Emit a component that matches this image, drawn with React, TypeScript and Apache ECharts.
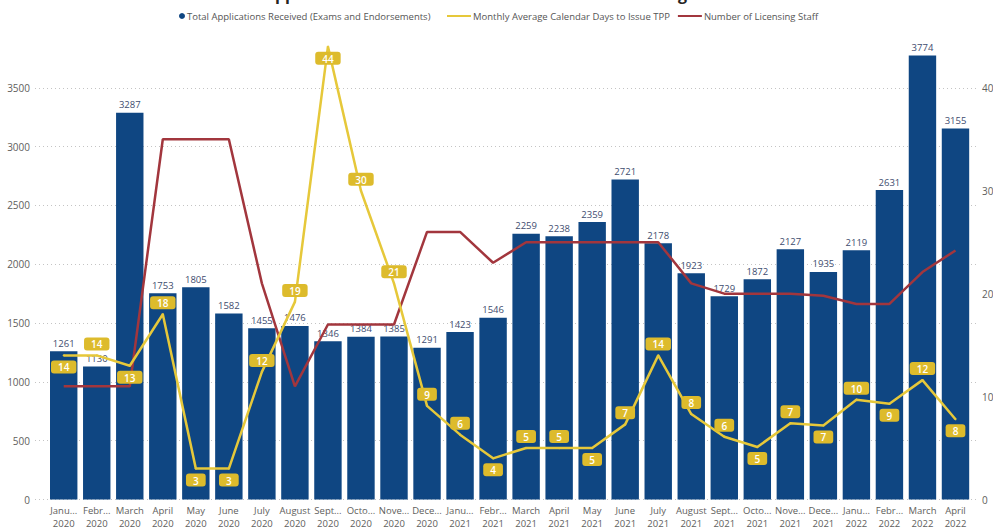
import React, { useEffect, useRef } from "react";
import * as echarts from "echarts";

const categories = [
  "Janu...\n2020", "Febr...\n2020", "March\n2020", "April\n2020", "May\n2020", "June\n2020",
  "July\n2020", "August\n2020", "Sept...\n2020", "Octo...\n2020", "Nove...\n2020", "Dece...\n2020",
  "Janu...\n2021", "Febr...\n2021", "March\n2021", "April\n2021", "May\n2021", "June\n2021",
  "July\n2021", "August\n2021", "Sept...\n2021", "Octo...\n2021", "Nove...\n2021", "Dece...\n2021",
  "Janu...\n2022", "Febr...\n2022", "March\n2022", "April\n2022",
];

const applications = [
  1261, 1130, 3287, 1753, 1805, 1582, 1455, 1476, 1346, 1384, 1385, 1291,
  1423, 1546, 2259, 2238, 2359, 2721, 2178, 1923, 1729, 1872, 2127, 1935,
  2119, 2631, 3774, 3155,
];

const daysToIssue = [
  14, 14, 13, 18, 3, 3, 12.4, 19.2, 44, 30, 21, 9.1,
  6.3, 4, 5, 5, 5, 7.3, 14, 8.3, 6.1, 5.1, 7.4, 7.2,
  9.7, 9.3, 11.6, 7.8,
];

const licensingStaff = [
  11, 11, 11, 35, 35, 35, 21, 11, 17, 17, 17, 26,
  26, 23, 25, 25, 25, 25, 25, 21, 20, 20, 20, 19.8,
  19, 19, 22.1, 24.2,
];

const leftTicks = { min: 0, max: 4000, interval: 500 };
const rightTicks = { min: 0, interval: 10 };

// indices whose day-label sits below the line point
const daysLabelBelow = [0, 2, 4, 5, 8, 13, 16, 21, 23, 25, 27];

const SERIES_BARS = "Total Applications Received (Exams and Endorsements)";
const SERIES_DAYS = "Monthly Average Calendar Days to Issue TPP";
const SERIES_STAFF = "Number of Licensing Staff";

const FONT = "'Open Sans', 'Noto Sans', sans-serif";
const BLUE = "#0F4682";
const YELLOW = "#E6C83A";
const YELLOW_LABEL = "#DDBB2C";
const RED = "#A2363D";
const GREY = "#605E5C";

export default function App() {
  const ref = useRef<HTMLDivElement>(null);

  useEffect(() => {
    if (!ref.current) return;
    const chart = echarts.init(ref.current, undefined, { renderer: "svg" });
    const rightMax = (leftTicks.max * 40) / 3500;

    const gridTop = 29;
    const gridBottom = 30.5;

    chart.setOption({
      animation: false,
      textStyle: { fontFamily: FONT },
      graphic: [
        {
          type: "text",
          left: "center",
          top: -14,
          style: {
            text: "Applications Received vs. Time to Issue and Licensing Staff",
            font: `bold 16px ${FONT}`,
            fill: "#252423",
          },
        },
      ],
      legend: [
        {
          data: [{ name: SERIES_BARS, icon: "circle" }],
          left: 179,
          top: 11,
          padding: 0,
          itemWidth: 6,
          itemHeight: 7,
          itemGap: 4,
          textStyle: { fontSize: 9.5, color: "#555", fontFamily: FONT, padding: [0, 0, 0, -3] },
        },
        {
          data: [
            { name: SERIES_DAYS, icon: "rect", itemStyle: { color: YELLOW, opacity: 1 } },
            { name: SERIES_STAFF, icon: "rect", itemStyle: { color: RED } },
          ],
          left: 447,
          top: 11,
          padding: 0,
          itemWidth: 24,
          itemHeight: 2,
          itemGap: 8,
          textStyle: { fontSize: 9.5, color: "#555", fontFamily: FONT, padding: [0, 0, 0, -3] },
        },
      ],
      grid: [
        { left: 35, right: 15, top: gridTop, bottom: gridBottom, outerBoundsMode: "none", containLabel: false },
        { left: 47.2, right: 21, top: gridTop, bottom: gridBottom, outerBoundsMode: "none", containLabel: false },
      ],
      xAxis: [
        { type: "value", gridIndex: 0, show: false, min: 0, max: 1 },
        {
          type: "category",
          gridIndex: 1,
          data: categories,
          axisLine: { show: false },
          axisTick: { show: false },
          axisLabel: {
            interval: 0,
            fontSize: 9.5,
            lineHeight: 13,
            color: GREY,
            margin: 4,
            fontFamily: FONT,
          },
        },
      ],
      yAxis: [
        {
          type: "value",
          gridIndex: 0,
          min: leftTicks.min,
          max: leftTicks.max,
          interval: leftTicks.interval,
          axisLine: { show: false },
          axisTick: { show: false },
          axisLabel: {
            showMaxLabel: false,
            fontSize: 10,
            color: GREY,
            margin: 5,
            fontFamily: FONT,
            formatter: (v: number) => String(v),
          },
          splitLine: {
            show: true,
            showMaxLine: false,
            lineStyle: { color: "#C4C4C4", type: [1, 3], width: 1 },
          },
        },
        {
          type: "value",
          gridIndex: 1,
          min: leftTicks.min,
          max: leftTicks.max,
          interval: leftTicks.interval,
          show: false,
          splitLine: { show: false },
        },
        {
          type: "value",
          gridIndex: 1,
          position: "right",
          min: rightTicks.min,
          max: rightMax,
          interval: rightTicks.interval,
          axisLine: { show: false },
          axisTick: { show: false },
          splitLine: { show: false },
          axisLabel: {
            showMaxLabel: false,
            fontSize: 10,
            color: GREY,
            align: "left",
            margin: 10,
            fontFamily: FONT,
            formatter: (v: number) => String(v),
          },
        },
      ],
      series: [
        {
          name: SERIES_BARS,
          type: "bar",
          xAxisIndex: 1,
          yAxisIndex: 1,
          data: applications,
          barCategoryGap: "17%",
          itemStyle: { color: BLUE },
          label: {
            show: true,
            position: "top",
            distance: 3,
            fontSize: 9.5,
            color: "#3E4C6E",
            fontFamily: FONT,
          },
        },
        {
          name: SERIES_STAFF,
          type: "line",
          xAxisIndex: 1,
          yAxisIndex: 2,
          data: licensingStaff,
          showSymbol: false,
          symbol: "none",
          clip: false,
          lineStyle: { color: RED, width: 2.5 },
          itemStyle: { color: RED },
        },
        {
          name: SERIES_DAYS,
          type: "line",
          xAxisIndex: 1,
          yAxisIndex: 2,
          clip: false,
          symbol: "circle",
          symbolSize: 2,
          showSymbol: true,
          lineStyle: { color: YELLOW, width: 2.5 },
          itemStyle: { color: YELLOW },
          data: daysToIssue.map((v, i) => ({
            value: v,
            label: { position: daysLabelBelow.includes(i) ? "bottom" : "top" },
          })),
          label: {
            show: true,
            distance: 4,
            formatter: (p: any) => String(Math.round(p.value)),
            fontSize: 10,
            fontWeight: 600,
            color: "#FFFFFF",
            backgroundColor: YELLOW_LABEL,
            borderRadius: 3,
            padding: [2, 7, 1, 7],
            fontFamily: FONT,
          },
          labelLayout: { hideOverlap: false },
        },
      ],
    });

    return () => chart.dispose();
  }, []);

  return (
    <div
      ref={ref}
      style={{ position: "fixed", left: 0, top: 0, width: 993, height: 530, background: "#fff" }}
    />
  );
}
